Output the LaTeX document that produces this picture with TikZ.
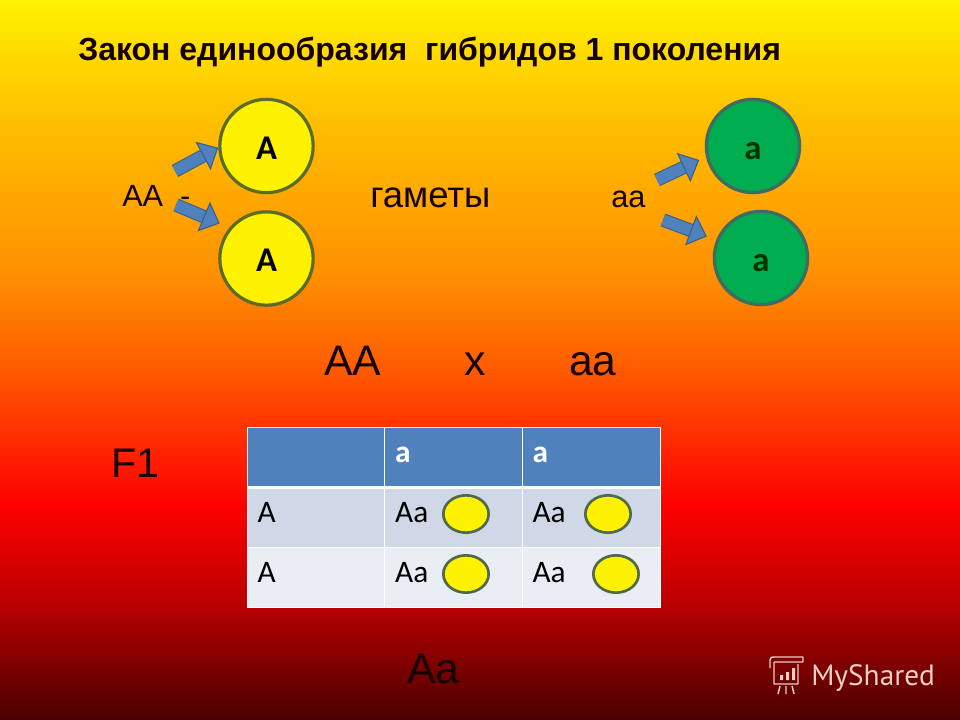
\documentclass[tikz,border=0pt]{standalone}
\usepackage{fontspec}
\setmainfont{Liberation Sans}
\newfontfamily\cellfont{Carlito}
\newfontfamily\markfont{PT Sans}
\usepackage{tikz}
\usetikzlibrary{shapes}
\usetikzlibrary{positioning}
\usetikzlibrary{arrows.meta}

\definecolor{slideA}{HTML}{FFF200}
\definecolor{slideB}{HTML}{FFDC00}
\definecolor{slideC}{HTML}{FFBC00}
\definecolor{slideD}{HTML}{FF9000}
\definecolor{slideE}{HTML}{FF5C00}
\definecolor{slideF}{HTML}{FF0000}
\definecolor{slideG}{HTML}{BC0000}
\definecolor{slideH}{HTML}{4A0000}
\pgfdeclareverticalshading{slidebg}{100bp}{color(0bp)=(slideH); color(25bp)=(slideH); color(33.33bp)=(slideG); color(39.93bp)=(slideF); color(49.51bp)=(slideE); color(55.9bp)=(slideD); color(65.97bp)=(slideC); color(71.53bp)=(slideB); color(75bp)=(slideA); color(100bp)=(slideA)}
\definecolor{cellhead}{HTML}{4F81BD}
\definecolor{cellline}{HTML}{3A5F8C}
\definecolor{rowlight}{HTML}{D0D8E8}
\definecolor{rowpale}{HTML}{E9EDF4}
\definecolor{yellowline}{HTML}{5A6B2A}
\definecolor{greenfill}{HTML}{00AC50}
\definecolor{greenline}{HTML}{3F6B62}
\definecolor{ovalline}{HTML}{4F6A4A}
\definecolor{marktext}{HTML}{EBCFC8}

\begin{document}
\begin{tikzpicture}[x=0.75pt,y=-0.75pt,on grid,
    blockarrow/.style ={draw=cellline ,double=cellhead ,double distance=8.5pt ,line width=0.8pt ,
    -{Triangle[length=13pt,width=24pt,color=cellline,fill=cellhead,line width=0.8pt]}},
    gamete/.style ={circle ,draw=yellowline ,fill=yellow ,line width=2.4pt ,minimum size=70pt ,inner sep=0pt ,
    text height=20pt ,text depth=0pt ,font=\cellfont\bfseries\fontsize{26}{26}\selectfont},
    gameterec/.style ={gamete ,draw=greenline ,fill=greenfill ,text=black!80!green},
    cell/.style ={rectangle ,draw=white ,line width=0.6pt ,minimum height=45pt ,inner sep=0pt ,text width=103.5pt-16pt ,
    minimum width=103.5pt ,align=left ,text height=13pt ,text depth=5pt ,text=black ,font=\cellfont\fontsize{23.5}{23.5}\selectfont},
    rowa/.style ={cell ,fill=rowlight},
    rowb/.style ={cell ,fill=rowpale},
    headcell/.style ={cell ,fill=cellhead ,text=white ,font=\cellfont\bfseries\fontsize{23.5}{23.5}\selectfont},
    oval/.style ={ellipse ,draw=ovalline ,fill=yellow ,line width=2pt ,minimum width=34pt ,minimum height=28pt ,inner sep=0pt},
    plain/.style ={inner sep=0pt ,text=black!92!red}]

    % background
    \shade[shading=slidebg] (0,0) rectangle (960,720);
    \useasboundingbox (0,0) rectangle (960,720);

    \node[plain,anchor=base west,font=\bfseries\fontsize{24}{24}\selectfont] (title) at (78,60.5) {Закон единообразия\ \ гибридов 1 поколения};

    % gametes
    \node[gamete] (A1) at (266.5,146) {A};
    \node[gamete] (A2) [below =84.4pt of A1] {A};
    \node[gameterec] (a1) at (753,146) {a};
    \node[gameterec] (a2) [below right =84pt and 6pt of a1] {a};

    \node[plain,anchor=base west,font=\fontsize{23}{23}\selectfont] (parentA) at (122,207) {AA\ \ -};
    \node[plain,anchor=base west,font=\fontsize{27.4}{27.4}\selectfont] (gametes) at (370,208) {гаметы};
    \node[plain,anchor=base west,font=\fontsize{23}{23}\selectfont] (parenta) at (611,208) {aa};

    \coordinate (sA1) at (175,171);
    \coordinate (sA2) at (176,205);
    \coordinate (sa1) at (657,180);
    \coordinate (sa2) at (663,220);
    \path (sA1) edge[blockarrow] (A1.182);
    \path (sA2) edge[blockarrow,shorten >=8pt] (A2.140);
    \path (sa1) edge[blockarrow,shorten >=5.6pt] (a1.193.5);
    \path (sa2) edge[blockarrow,shorten >=7.5pt] (a2.158.7);

    % cross
    \node[plain,anchor=base west,font=\fontsize{32}{32}\selectfont] (crossA) at (324,375) {AA};
    \node[plain,anchor=base west,font=\fontsize{32}{32}\selectfont] (crossx) at (464,375) {x};
    \node[plain,anchor=base west,font=\fontsize{32}{32}\selectfont] (crossa) at (569,375) {aa};
    \node[plain,anchor=base west,font=\fontsize{31}{31}\selectfont] (filial) at (111,477) {F1};

    % table
    \node[headcell] (c00) at (316,457) {};
    \node[headcell] (c01) [right =103.1pt of c00] {a};
    \node[headcell] (c02) [right =103.1pt of c01] {a};
    \node[rowa] (c10) [below =45pt of c00] {A};
    \node[rowa] (c11) [below =45pt of c01] {Aa};
    \node[rowa] (c12) [below =45pt of c02] {Aa};
    \node[rowb] (c20) [below =45pt of c10] {A};
    \node[rowb] (c21) [below =45pt of c11] {Aa};
    \node[rowb] (c22) [below =45pt of c12] {Aa};
    \draw[white,line width=2.4pt] (c00.south west) -- (c02.south east);

    \node[oval] (o11) at (466,514) {};
    \node[oval] (o12) at (608,514) {};
    \node[oval] (o21) at (466,574) {};
    \node[oval] (o22) at (616,574) {};

    \node[plain,anchor=base west,font=\fontsize{32}{32}\selectfont] (result) at (407,683) {Aa};

    % watermark
    \node[plain,anchor=base west,text=marktext,font=\markfont\fontsize{22}{22}\selectfont] (mark) at (811,685) {MyShared};
    \draw[marktext,line width=1.1pt,line join=round] (774,662) -- (774,684) -- (798,684) -- (798,664) (770,668) -- (770,660) .. controls (770,657) and (772,657) .. (774,657) -- (803,657) -- (803,662) -- (774,662);
    \fill[marktext] (780,675) rectangle (783,680) (786,672) rectangle (789,680) (792,668) rectangle (795,680);
    \draw[marktext,line width=1.1pt] (780,686) -- (778,694) (786,686) -- (786,694) (792,686) -- (794,694);
\end{tikzpicture}
\end{document}
